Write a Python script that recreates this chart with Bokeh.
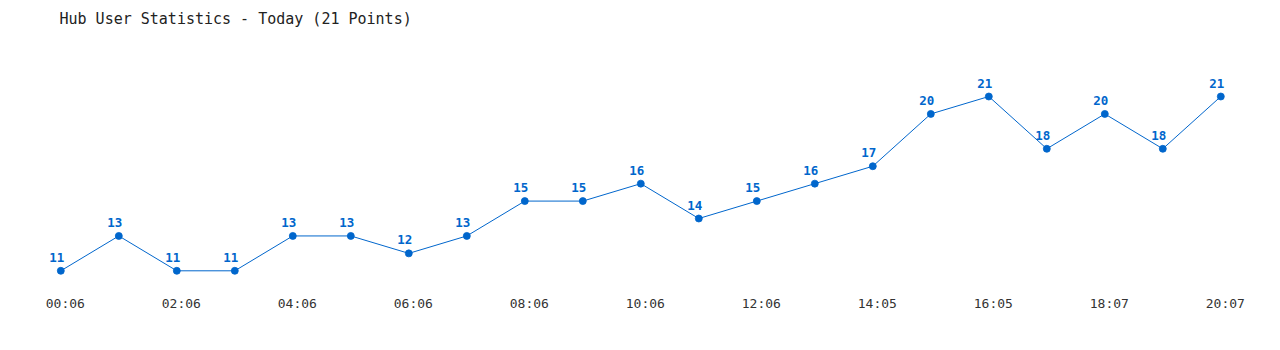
from bokeh.plotting import figure
from bokeh.models import Range1d, ColumnDataSource
from bokeh.core.properties import value
from bokeh.embed import file_html
from bokeh.resources import INLINE

title_text = "Hub User Statistics - Today (21 Points)"
times = ["00:06", "01:06", "02:06", "03:06", "04:06", "05:06", "06:06", "07:06",
         "08:06", "09:06", "10:06", "11:06", "12:06", "13:06", "14:05", "15:05",
         "16:05", "17:05", "18:07", "19:07", "20:07"]
users = [11, 13, 11, 11, 13, 13, 12, 13, 15, 15, 16, 14, 15, 16, 17, 20, 21, 18, 20, 18, 21]
tick_labels = ["00:06", "02:06", "04:06", "06:06", "08:06", "10:06",
               "12:06", "14:05", "16:05", "18:07", "20:07"]

idx = list(range(len(users)))
tick_idx = [times.index(t) for t in tick_labels]

BLUE = "#0066cc"
FONT = value("DejaVu Sans Mono")

x_lo, x_hi = -1.0397, 21.0293
y_lo, y_hi = 6.4274, 26.508

p = figure(width=1280, height=350, output_backend="svg", toolbar_location=None,
           x_range=Range1d(x_lo, x_hi), y_range=Range1d(y_lo, y_hi),
           min_border=0, min_border_left=0, min_border_right=0,
           min_border_top=0, min_border_bottom=0, outline_line_color=None,
           background_fill_color="white", border_fill_color="white")
p.axis.visible = False
p.grid.visible = False

src = ColumnDataSource(dict(x=idx, y=users, lab=[str(u) for u in users]))
p.line("x", "y", source=src, line_color=BLUE, line_width=1)
p.scatter("x", "y", source=src, size=7, fill_color=BLUE, line_color=BLUE, line_width=0.8)
p.text("x", "y", text="lab", source=src, text_font=FONT, text_font_size="12.5px",
       text_font_style="bold", text_color=BLUE, text_align="center",
       text_baseline="middle", x_offset=-4, y_offset=-13.5)

tsrc = ColumnDataSource(dict(x=tick_idx, y=[y_lo] * len(tick_idx), lab=tick_labels))
p.text("x", "y", text="lab", source=tsrc, text_font=FONT, text_font_size="13px",
       text_color="#333333", text_align="center", text_baseline="middle",
       x_offset=4.5, y_offset=-47)

p.text(x=[x_lo], y=[y_hi], text=[title_text], text_font=FONT, text_font_size="15px",
       text_color="#222222", text_align="left", text_baseline="middle",
       x_offset=59, y_offset=18)

open("out.html", "w").write(file_html(p, INLINE))
